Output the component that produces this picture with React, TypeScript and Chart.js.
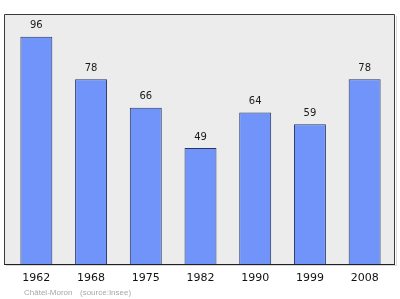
import React, { useEffect, useRef } from "react";
import { Chart, registerables } from "chart.js";

Chart.register(...registerables);

// Census years and population counts
const years = ["1962", "1968", "1975", "1982", "1990", "1999", "2008"];
const population = [96, 78, 66, 49, 64, 59, 78];
const placeName = "Châtel-Moron";
const sourceNote = "(source:Insee)";

const W = 400;
const H = 299;

// Grey panel behind the bars, slightly wider than the chart area
const panelPlugin = {
  id: "panel",
  beforeDraw(chart: any) {
    const { ctx, chartArea } = chart;
    const left = chartArea.left - 5;
    const right = chartArea.right + 3;
    const top = chartArea.top;
    const bottom = chartArea.bottom;
    ctx.save();
    ctx.fillStyle = "#ececec";
    ctx.fillRect(left, top, right - left, bottom - top);
    // soft shadow on the right edge
    ctx.strokeStyle = "rgba(0,0,0,0.15)";
    ctx.lineWidth = 1;
    ctx.beginPath();
    ctx.moveTo(right + 1.5, top + 2);
    ctx.lineTo(right + 1.5, bottom + 1.5);
    ctx.lineTo(left + 2, bottom + 1.5);
    ctx.stroke();
    ctx.strokeStyle = "#3a3a3a";
    ctx.beginPath();
    ctx.rect(left + 0.5, top + 0.5, right - left - 1, bottom - top);
    ctx.stroke();
    ctx.restore();
  },
  afterDraw(chart: any) {
    const { ctx, chartArea } = chart;
    ctx.save();
    // bottom axis line over the bars
    ctx.strokeStyle = "#222";
    ctx.lineWidth = 1;
    ctx.beginPath();
    ctx.moveTo(chartArea.left - 5, chartArea.bottom + 0.5);
    ctx.lineTo(chartArea.right + 3, chartArea.bottom + 0.5);
    ctx.stroke();

    // value labels above each bar
    const meta = chart.getDatasetMeta(0);
    ctx.font = "10px 'DejaVu Sans'";
    ctx.fillStyle = "#1a1a1a";
    ctx.textAlign = "center";
    ctx.textBaseline = "middle";
    meta.data.forEach((bar: any, i: number) => {
      ctx.fillText(String(population[i]), bar.x, bar.y - 11);
    });

    // footer caption
    ctx.font = "8px 'Liberation Sans'";
    ctx.fillStyle = "#a8a8a8";
    ctx.textAlign = "left";
    ctx.fillText(placeName, 24, 293);
    ctx.fillText(sourceNote, 80, 293);
    ctx.restore();
  },
};

export default function App() {
  const canvasRef = useRef<HTMLCanvasElement | null>(null);

  useEffect(() => {
    if (!canvasRef.current) return;
    const chart = new Chart(canvasRef.current, {
      type: "bar",
      data: {
        labels: years,
        datasets: [
          {
            data: population,
            backgroundColor: "rgb(112,148,250)",
            borderColor: "#26345f",
            borderWidth: 1,
            barPercentage: 0.584,
            categoryPercentage: 1,
          },
        ],
      },
      options: {
        responsive: false,
        animation: false,
        layout: { padding: { left: 9, right: 8, top: 14, bottom: 0 } },
        plugins: {
          legend: { display: false },
          tooltip: { enabled: false },
          title: { display: false },
        },
        scales: {
          x: {
            grid: { display: false, drawTicks: false },
            border: { display: false },
            ticks: {
              color: "#111",
              font: { family: "'DejaVu Sans'", size: 11 },
              padding: 8,
              maxRotation: 0,
            },
            afterFit: (scale: any) => {
              scale.height = 35;
            },
          },
          y: {
            display: false,
            min: 0,
            max: 105.6,
          },
        },
      },
      plugins: [panelPlugin],
    });
    return () => chart.destroy();
  }, []);

  return (
    <div style={{ position: "fixed", left: 0, top: 0, width: W, height: H, background: "#fff" }}>
      <canvas ref={canvasRef} width={W} height={H} style={{ display: "block" }} />
    </div>
  );
}
